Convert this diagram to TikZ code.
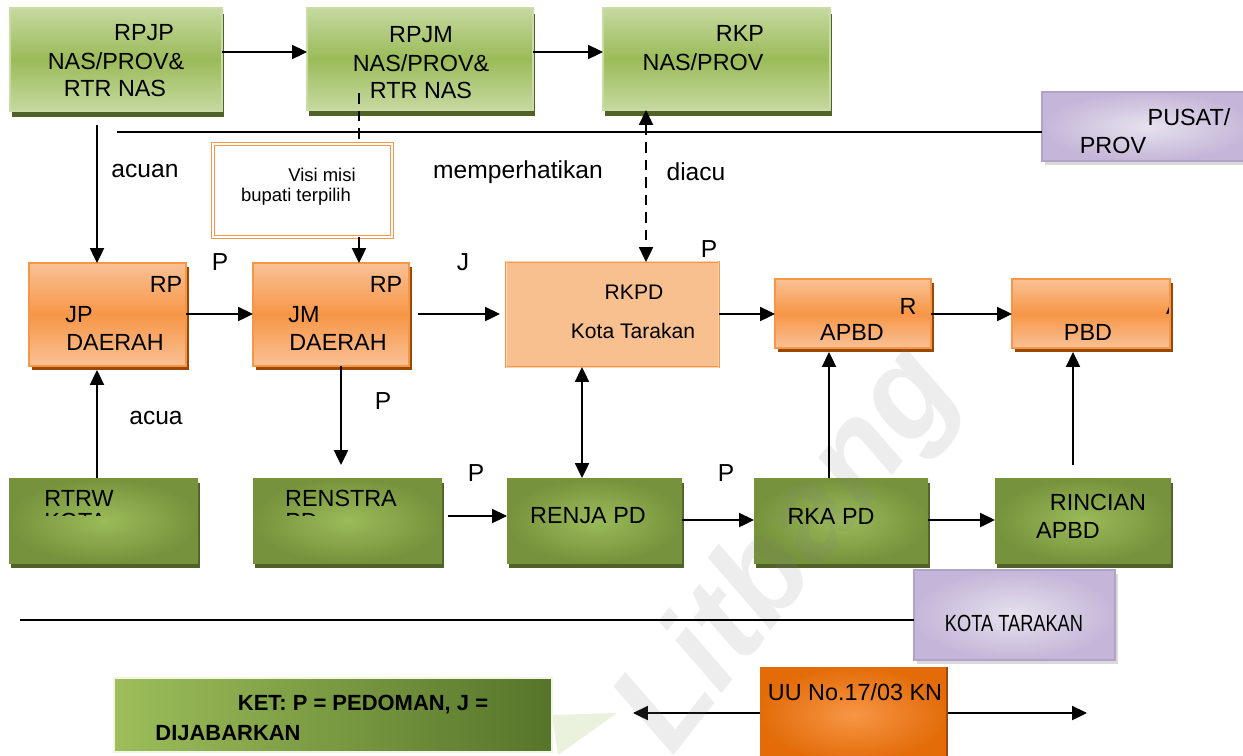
\documentclass[tikz,border=0pt]{standalone}
\usepackage{fontspec}
\usepackage{graphicx}
\setmainfont{Liberation Sans}
\usetikzlibrary{arrows.meta,shadows,calc}

\definecolor{gLight}{HTML}{C6D9A0}
\definecolor{gMid}{HTML}{9BBB59}
\definecolor{gBorder}{HTML}{C9DBA6}
\definecolor{gShadow}{HTML}{4F6228}
\definecolor{oLight}{HTML}{F9C196}
\definecolor{oMid}{HTML}{F79646}
\definecolor{oBorder}{HTML}{F79646}
\definecolor{oShadow}{HTML}{984807}
\definecolor{rkFill}{HTML}{F8BF8F}
\definecolor{dInner}{HTML}{9BBB59}
\definecolor{dOuter}{HTML}{76923C}
\definecolor{lInner}{HTML}{E6E1EE}
\definecolor{lOuter}{HTML}{C4B6D8}
\definecolor{lBorder}{HTML}{B3A2C7}
\definecolor{uInner}{HTML}{F79646}
\definecolor{uOuter}{HTML}{E36C09}
\definecolor{kLeft}{HTML}{9DBE5A}
\definecolor{kRight}{HTML}{56752A}
\definecolor{triGreen}{HTML}{EAF1DD}

\newcommand\mkbox[6]{\node[#2, minimum width={(#5-#3)*0.02cm}, minimum height={(#6-#4)*0.02cm}] (#1) at (#3,#4) {};}

\tikzset{
  txt/.style={inner sep=0pt, font=\fontsize{13.3}{15.6}\selectfont},
  lbl/.style={inner sep=0pt, font=\fontsize{14}{16}\selectfont},
  small/.style={inner sep=0pt, font=\fontsize{10.5}{12.5}\selectfont},
  boldtxt/.style={inner sep=0pt, font=\fontsize{12.5}{15}\selectfont\bfseries},
  box/.style={anchor=north west, inner sep=0pt, outer sep=0pt},
  gbox/.style={box, draw=gBorder, line width=1pt, top color=gLight, bottom color=gLight, middle color=gMid,
     drop shadow={shadow xshift=1.2pt, shadow yshift=-3.2pt, opacity=1, fill=gShadow}},
  obox/.style={box, draw=oBorder, line width=1pt, top color=oLight, bottom color=oLight, middle color=oMid,
     drop shadow={shadow xshift=1.8pt, shadow yshift=-2.4pt, opacity=1, fill=oShadow}},
  rbox/.style={box, draw=oBorder, line width=1.3pt, fill=rkFill},
  vbox/.style={box, draw=oMid, double=white, double distance=0.6pt, line width=0.9pt, fill=white},
  dbox/.style={box, inner color=dInner, outer color=dOuter,
     drop shadow={shadow xshift=1.2pt, shadow yshift=-2.8pt, opacity=1, fill=gShadow}},
  lbox/.style={box, draw=lBorder, line width=1pt, inner color=lInner, outer color=lOuter,
     drop shadow={shadow xshift=1.5pt, shadow yshift=-2.5pt, opacity=1, fill=black!15}},
  ubox/.style={box, inner color=uInner, outer color=uOuter,
     drop shadow={shadow xshift=1.2pt, shadow yshift=0pt, opacity=1, fill=oShadow}},
  kbox/.style={box, draw=white!85!gMid, line width=1pt, left color=kLeft, right color=kRight},
  arr/.style={line width=1.1pt, -{Triangle[length=8.5pt,width=8pt]}},
  darr/.style={line width=1.1pt, {Triangle[length=8.5pt,width=8pt]}-{Triangle[length=8.5pt,width=8pt]}},
  plain/.style={line width=1.1pt},
}

\begin{document}
\begin{tikzpicture}[x=0.02cm,y=-0.02cm]
\useasboundingbox (0,0) rectangle (1243,755);
\clip (0,0) rectangle (1243,755);

% named helper coordinates
\coordinate (y52) at (0,52);
\coordinate (y132) at (0,132);
\coordinate (y314) at (0,314);
\coordinate (y516) at (0,516);
\coordinate (y520) at (0,520);
\coordinate (y620) at (0,620);
\coordinate (x97) at (97,0);
\coordinate (x359) at (359,0);
\coordinate (x341) at (341,0);
\coordinate (x582) at (582,0);
\coordinate (x646) at (646,0);
\coordinate (x829) at (829,0);
\coordinate (x1073) at (1073,0);
\coordinate (lineA) at (117,132);
\coordinate (lineB) at (20,620);
\coordinate (uuL) at (633,713);
\coordinate (uuR) at (1087,713);

% callout triangle
\fill[triGreen] (552,715) -- (617,713) -- (558,755) -- cycle;

% boxes
\mkbox{rpjp}{gbox}{10}{8}{222}{111}
\mkbox{rpjm}{gbox}{307}{8}{533}{110}
\mkbox{rkp}{gbox}{603}{8}{830}{110}
\mkbox{pusat}{lbox}{1042}{92}{1252}{161}
\mkbox{visi}{vbox}{213}{144}{392}{237}
\mkbox{jpd}{obox}{29}{263}{186}{366}
\mkbox{jmd}{obox}{253}{263}{409}{366}
\mkbox{rkpd}{rbox}{506}{262}{719}{367}
\mkbox{apbd}{obox}{775}{279}{931}{348}
\mkbox{pbd}{obox}{1012}{279}{1170}{348}
\mkbox{rtrw}{dbox}{9}{478}{198}{563}
\mkbox{renstra}{dbox}{253}{478}{442}{563}
\mkbox{renja}{dbox}{507}{478}{682}{563}
\mkbox{rka}{dbox}{754}{478}{928}{563}
\mkbox{rincian}{dbox}{995}{478}{1171}{563}
\mkbox{kota}{lbox}{914}{570}{1115}{660}
\mkbox{ket}{kbox}{114}{678}{552}{752}

% double arrow behind UU box
\draw[darr] (uuL) -- (uuR);
\mkbox{uu}{ubox}{760}{667}{946}{762}

% inner line of RKPD box
\draw[oLight!70!white, line width=0.5pt] ([shift={(0.08,-0.08)}]rkpd.north west) rectangle ([shift={(-0.08,0.08)}]rkpd.south east);

% watermark (faint, behind the texts)
\node[inner sep=0pt, rotate=52, text=gray, text opacity=0.14, font=\fontsize{74}{80}\selectfont\bfseries\itshape] (wm) at (790,552) {Litbang};

% texts
\node[txt] (t1) at (144,33) {RPJP};
\node[txt] (t2) at (116,61) {NAS/PROV\&};
\node[txt] (t3) at (115,88) {RTR NAS};
\node[txt] (t4) at (421,35) {RPJM};
\node[txt] (t5) at (421,63) {NAS/PROV\&};
\node[txt] (t6) at (421,90) {RTR NAS};
\node[txt] (t7) at (740,33) {RKP};
\node[txt] (t8) at (703,62) {NAS/PROV};
\node[txt] (t9) at (1189,117) {PUSAT/};
\node[txt] (t10) at (1113,145) {PROV};
\node[small] (t11) at (322,175) {Visi misi};
\node[small] (t12) at (296,197) {bupati terpilih};
\node[lbl] (l1) at (145,171) {acuan};
\node[lbl] (l2) at (518,172) {memperhatikan};
\node[lbl] (l3) at (696,172) {diacu};
\node[txt] (t13) at (166,284) {RP};
\node[txt] (t14) at (79,315) {JP};
\node[txt] (t15) at (115,342) {DAERAH};
\node[txt] (t16) at (386,284) {RP};
\node[txt] (t17) at (304,315) {JM};
\node[txt] (t18) at (338,342) {DAERAH};
\node[lbl] (p1) at (220,262) {P};
\node[lbl] (j1) at (463,262) {J};
\node[lbl] (p2) at (709,249) {P};
\node[txt, font=\fontsize{12}{14}\selectfont] (t19) at (634,292) {RKPD};
\node[txt, font=\fontsize{12}{14}\selectfont] (t20) at (633,331) {Kota Tarakan};
\node[txt] (t21) at (908,306) {R};
\node[txt] (t22) at (852,332) {APBD};
\node[txt] (t23) at (1088,332) {PBD};
\begin{scope}
  \clip (1012,279) rectangle (1168,348);
  \node[txt] (t24) at (1174,306) {A};
\end{scope}
\node[lbl] (l4) at (156,418) {acua};
\node[lbl] (p3) at (383,401) {P};
\node[txt] (t25) at (79,498) {RTRW};
\node[txt] (t27) at (341,498) {RENSTRA};
\begin{scope}
  \clip (0,470) rectangle (500,515);
  \node[txt, anchor=west] (t26) at (44,521) {KOTA};
  \node[txt, anchor=west] (t28) at (285,521) {PD};
\end{scope}
\node[lbl] (p4) at (476,473) {P};
\node[lbl] (p5) at (726,473) {P};
\node[txt] (t29) at (588,516) {RENJA PD};
\node[txt] (t30) at (831,516) {RKA PD};
\node[txt] (t31) at (1098,502) {RINCIAN};
\node[txt] (t32) at (1068,530) {APBD};
\node[txt] (t33) at (1014,623) {\scalebox{0.78}[1]{KOTA TARAKAN}};
\node[boldtxt] (t34) at (363,705) {KET: P = PEDOMAN, J =};
\node[boldtxt] (t35) at (228,733) {DIJABARKAN};
\node[txt] (t36) at (855,692) {UU No.17/03 KN};

% lines and connectors
\draw[plain] (lineA) -- (pusat.west |- y132);
\draw[plain] (lineB) -- (kota.west |- y620);
\draw[arr] (rpjp.east |- y52) -- (rpjm.west |- y52);
\draw[arr] (rpjm.east |- y52) -- (rkp.west |- y52);
\draw[arr, shorten <=0.28cm] (rpjp.south -| x97) -- (jpd.north -| x97);
\draw[plain, dashed, dash pattern=on 6pt off 4pt, shorten <=-0.34cm] (rpjm.south -| x359) -- (visi.north -| x359);
\draw[arr] (visi.south -| x359) -- (jmd.north -| x359);
\draw[darr, dashed, dash pattern=on 6pt off 4pt] (rkp.south -| x646) -- (rkpd.north -| x646);
\draw[arr] (jpd.east |- y314) -- (jmd.west |- y314);
\draw[arr, shorten <=0.18cm, shorten >=0.12cm] (jmd.east |- y314) -- (rkpd.west |- y314);
\draw[arr] (rkpd.east |- y314) -- (apbd.west |- y314);
\draw[arr] (apbd.east |- y314) -- (pbd.west |- y314);
\draw[arr, shorten >=0.08cm] (rtrw.north -| x97) -- (jpd.south -| x97);
\draw[arr, shorten >=0.26cm] (jmd.south -| x341) -- (renstra.north -| x341);
\draw[darr] (rkpd.south -| x582) -- (renja.north -| x582);
\draw[arr, shorten <=0.12cm] (renstra.east |- y516) -- (renja.west |- y516);
\draw[arr] (renja.east |- y520) -- (rka.west |- y520);
\draw[arr] (rka.east |- y520) -- (rincian.west |- y520);
\draw[arr, shorten >=0.08cm] (rka.north -| x829) -- (apbd.south -| x829);
\draw[arr, shorten <=0.26cm, shorten >=0.08cm] (rincian.north -| x1073) -- (pbd.south -| x1073);
\end{tikzpicture}
\end{document}
